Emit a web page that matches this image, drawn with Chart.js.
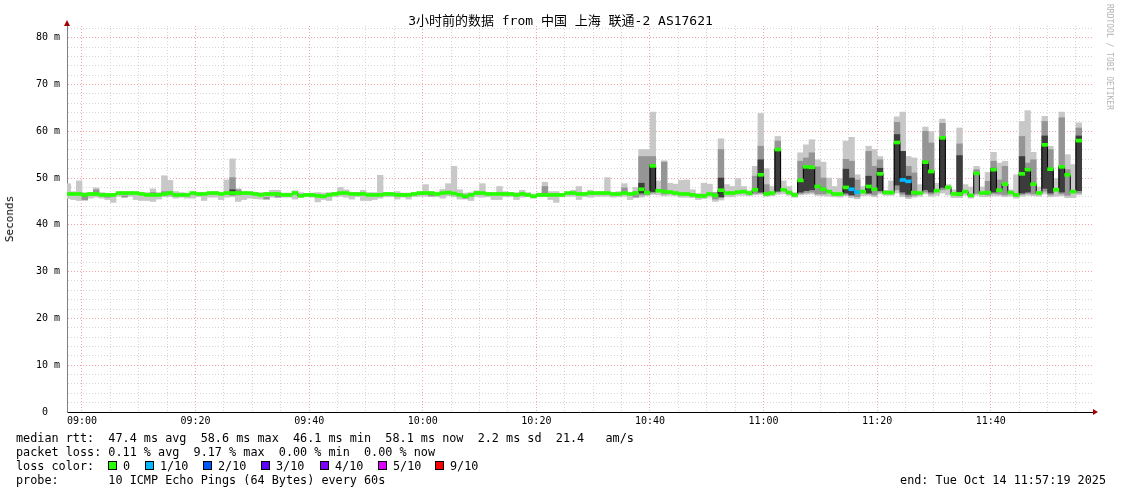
<!DOCTYPE html>
<html>
<head>
<meta charset="utf-8">
<title>SmokePing 3h</title>
<script src="https://cdn.jsdelivr.net/npm/chart.js@4.4.1/dist/chart.umd.min.js"></script>
<style>
  body { margin: 0; background: #fff; }
  #wrap { position: relative; width: 1121px; height: 494px; overflow: hidden; background: #fff; }
  #chart { position: absolute; left: 0; top: 0; }
  .txt { position: absolute; font-family: "DejaVu Sans Mono", monospace; color: #000; white-space: pre; }
  #title { left: 0; top: 13px; width: 1121px; text-align: center; font-size: 13px; line-height: 16px;
           font-family: "DejaVu Sans Mono", "Noto Sans CJK SC", monospace; }
  #ytitle { left: 10px; top: 219px; font-size: 11px; line-height: 12px; transform: translate(-50%, -50%) rotate(-90deg); }
  #legend { left: 16px; top: 431px; font-size: 11.8px; line-height: 14px; }
  #end { right: 15px; top: 473px; font-size: 11.8px; line-height: 14px; }
  #rrd { left: 1105px; top: 4px; font-size: 8px; color: #b4b4b4; writing-mode: vertical-rl; }
  .box { position: absolute; top: 461px; width: 7px; height: 7px; border: 1px solid #000; }
  .lbl { position: absolute; top: 459px; font-size: 11.8px; line-height: 14px; }
</style>
</head>
<body>
<div id="wrap">
  <canvas id="chart" width="1121" height="494"></canvas>
  <div id="title" class="txt">3小时前的数据 from 中国 上海 联通-2 AS17621</div>
  <div id="ytitle" class="txt">Seconds</div>
  <div id="rrd" class="txt">RRDTOOL / TOBI OETIKER</div>
  <div id="legend" class="txt">median rtt:  47.4 ms avg  58.6 ms max  46.1 ms min  58.1 ms now  2.2 ms sd  21.4   am/s
packet loss: 0.11 % avg  9.17 % max  0.00 % min  0.00 % now
loss color:
probe:       10 ICMP Echo Pings (64 Bytes) every 60s</div>
  <div id="lossKey"></div>
  <div id="end" class="txt">end: Tue Oct 14 11:57:19 2025</div>
</div>
<script>
// minutes relative to 09:00, first sample is 08:57
const firstMinute = -3;

const median = [
  46.6, 46.6, 46.6, 46.4, 46.6, 46.6, 46.4, 46.4, 46.4, 46.8,
  46.8, 46.8, 46.8, 46.6, 46.4, 46.4, 46.4, 46.6, 46.8, 46.4,
  46.4, 46.4, 46.8, 46.6, 46.6, 46.8, 46.8, 46.6, 46.8, 46.8,
  46.8, 46.8, 46.8, 46.6, 46.4, 46.6, 46.6, 46.6, 46.4, 46.4,
  46.8, 46.2, 46.4, 46.4, 46.2, 46.1, 46.4, 46.6, 46.8, 46.8,
  46.6, 46.6, 46.6, 46.4, 46.4, 46.4, 46.6, 46.6, 46.4, 46.4,
  46.4, 46.6, 46.8, 46.8, 46.8, 46.6, 46.8, 46.9, 46.7, 46.4,
  46.1, 46.4, 46.8, 46.8, 46.6, 46.6, 46.6, 46.6, 46.6, 46.4,
  46.6, 46.4, 46.1, 46.4, 46.4, 46.4, 46.4, 46.4, 46.8, 46.8,
  46.6, 46.6, 46.8, 46.8, 46.8, 46.8, 46.6, 46.6, 46.8, 46.6,
  46.8, 47.6, 46.9, 52.6, 47.3, 47.1, 47.0, 46.8, 46.6, 46.6,
  46.4, 46.2, 46.2, 46.6, 46.3, 47.4, 46.8, 46.8, 47.0, 47.1,
  46.8, 47.5, 50.7, 46.6, 46.8, 56.1, 47.5, 46.9, 46.4, 49.5,
  52.4, 52.3, 48.2, 47.6, 47.1, 46.6, 46.6, 48.0, 47.6, 47.0,
  47.1, 48.2, 47.6, 50.9, 46.9, 46.9, 57.6, 49.6, 49.3, 46.9,
  46.8, 53.4, 51.4, 47.3, 58.6, 48.0, 46.6, 46.6, 47.1, 46.3,
  51.0, 46.8, 46.9, 51.8, 47.4, 48.7, 46.9, 46.4, 50.9, 51.8,
  48.7, 46.8, 57.1, 51.9, 47.5, 52.4, 50.7, 47.1, 58.0
];

const minRtt = [
  45.6, 45.4, 45.2, 45.2, 45.7, 45.9, 45.7, 45.4, 44.8, 46.1,
  46.0, 46.1, 45.4, 45.2, 45.2, 45.0, 45.5, 46.0, 46.0, 45.7,
  45.9, 45.7, 45.7, 46.0, 45.2, 45.9, 45.9, 45.4, 45.9, 46.0,
  45.0, 45.4, 45.7, 45.6, 45.5, 45.5, 45.9, 45.9, 45.9, 45.9,
  45.5, 45.9, 46.0, 45.9, 44.9, 45.4, 45.2, 46.0, 46.1, 45.9,
  45.5, 46.0, 45.2, 45.2, 45.4, 45.7, 46.0, 46.0, 45.5, 45.9,
  45.5, 46.0, 46.1, 46.1, 46.0, 46.0, 45.7, 46.2, 46.0, 45.5,
  45.5, 45.2, 46.0, 45.9, 46.0, 45.4, 45.4, 46.0, 46.0, 45.4,
  45.9, 46.0, 45.7, 46.0, 46.0, 45.4, 44.8, 46.0, 46.1, 46.1,
  45.4, 46.0, 45.9, 46.1, 46.1, 46.1, 45.9, 46.0, 46.1, 45.4,
  45.9, 45.9, 46.2, 46.5, 46.4, 46.2, 46.3, 46.2, 45.9, 45.9,
  45.8, 45.4, 45.6, 45.9, 45.0, 45.3, 46.0, 46.0, 46.3, 46.3,
  46.2, 46.4, 46.5, 46.1, 46.2, 46.5, 46.6, 46.3, 45.9, 46.4,
  46.5, 46.6, 46.3, 46.2, 46.1, 46.0, 45.9, 46.2, 45.8, 45.6,
  46.2, 46.3, 46.0, 46.6, 46.3, 46.3, 46.8, 46.0, 45.6, 45.9,
  46.1, 46.6, 46.1, 46.3, 46.8, 46.4, 45.8, 45.8, 46.3, 45.7,
  46.3, 46.0, 46.0, 46.2, 46.2, 46.0, 46.1, 45.7, 46.1, 46.3,
  46.2, 46.1, 46.6, 46.0, 46.1, 46.2, 45.8, 45.8, 46.4
];

const maxRtt = [
  48.8, 47.1, 49.4, 46.9, 46.9, 47.9, 46.9, 46.4, 46.6, 46.9,
  47.1, 47.1, 46.9, 46.9, 46.9, 47.7, 46.9, 50.5, 49.5, 47.1,
  46.9, 46.8, 46.9, 46.9, 46.9, 46.9, 47.1, 46.8, 49.6, 54.1,
  47.7, 47.1, 46.9, 46.9, 46.9, 46.9, 47.4, 47.4, 46.8, 46.8,
  47.3, 46.9, 46.6, 46.8, 46.9, 46.8, 46.9, 46.9, 48.0, 47.5,
  46.9, 46.9, 47.4, 46.9, 46.9, 50.6, 46.9, 46.8, 47.1, 46.8,
  46.8, 46.9, 47.1, 48.6, 47.1, 46.8, 47.6, 48.8, 52.5, 47.5,
  46.8, 46.9, 47.3, 48.8, 46.9, 46.8, 48.2, 47.1, 46.9, 46.9,
  47.4, 46.9, 46.6, 46.8, 49.1, 47.1, 47.1, 46.5, 46.9, 47.4,
  48.2, 46.9, 47.4, 46.9, 47.1, 50.1, 46.9, 47.1, 48.8, 46.9,
  48.0, 56.1, 56.1, 64.1, 49.4, 53.7, 48.9, 48.7, 49.5, 49.6,
  47.5, 46.7, 48.9, 48.7, 46.8, 58.4, 48.6, 48.2, 49.9, 48.2,
  47.3, 52.5, 63.8, 52.0, 48.2, 58.9, 49.4, 48.2, 46.9, 55.4,
  57.1, 58.2, 53.9, 53.4, 50.0, 48.2, 49.9, 57.9, 58.7, 50.7,
  48.2, 56.8, 56.1, 54.6, 47.4, 49.4, 63.1, 64.1, 54.6, 54.3,
  48.6, 60.9, 59.9, 48.9, 62.6, 48.6, 47.5, 60.7, 48.6, 48.1,
  52.5, 48.1, 51.2, 55.5, 53.2, 53.6, 47.5, 50.7, 62.1, 64.4,
  55.5, 48.1, 63.2, 56.8, 49.9, 64.1, 55.0, 52.9, 61.8
];

// inner smoke bands: [minute, low, high]
const midBands = [
  [0, 45.4, 46.4], [2, 46.4, 47.5], [4, 45.9, 46.3], [7, 45.9, 46.2], [12, 46.2, 46.9],
  [14, 46.4, 47.1], [15, 46.4, 47.1], [26, 46.5, 50.1], [27, 46.4, 47.5], [32, 45.5, 45.9],
  [34, 45.9, 46.4], [61, 46.2, 46.8], [67, 45.7, 46.4], [81, 46.4, 48.2], [95, 46.6, 47.9],
  [97, 45.9, 47.1], [98, 46.4, 54.6], [99, 46.5, 54.6], [100, 46.8, 54.6], [102, 46.6, 53.4],
  [111, 45.5, 46.9], [112, 45.8, 56.1], [118, 46.7, 50.4], [119, 46.8, 56.8], [120, 46.4, 48.6],
  [122, 47.0, 57.9], [126, 46.7, 53.6], [127, 46.9, 54.3], [128, 47.0, 55.4], [129, 46.6, 52.4],
  [130, 46.6, 50.0], [134, 46.5, 54.0], [135, 46.2, 53.6], [136, 46.0, 49.6], [138, 46.6, 55.7],
  [139, 46.4, 52.5], [140, 47.0, 53.9], [143, 47.5, 61.9], [144, 46.5, 55.7], [145, 46.0, 52.5],
  [146, 46.3, 51.1], [148, 47.0, 60.0], [149, 46.6, 57.5], [151, 47.5, 61.7], [154, 46.2, 57.3],
  [157, 46.7, 51.8], [159, 46.4, 49.3], [160, 46.7, 53.6], [161, 46.6, 49.6], [162, 46.4, 52.5],
  [165, 46.5, 58.9], [166, 46.7, 53.2], [167, 46.6, 53.9], [169, 47.2, 62.1], [170, 46.4, 56.1],
  [172, 46.6, 62.9], [173, 46.3, 51.8], [175, 46.8, 60.7]
];

const darkBands = [
  [26, 46.4, 47.5], [98, 46.8, 48.9], [100, 47.1, 52.9], [112, 46.0, 50.0], [119, 47.0, 53.9],
  [122, 47.2, 56.2], [126, 47.0, 49.6], [127, 47.3, 52.5], [128, 47.5, 52.3], [134, 46.8, 51.9],
  [135, 46.4, 50.0], [138, 46.8, 50.4], [140, 47.3, 52.1], [143, 48.5, 59.3], [144, 47.0, 55.7],
  [145, 46.5, 50.4], [148, 47.5, 53.6], [149, 47.0, 51.6], [151, 48.0, 58.6], [154, 46.4, 54.8],
  [160, 47.0, 52.1], [165, 46.8, 54.6], [166, 47.0, 52.1], [169, 47.8, 59.0], [170, 46.8, 52.1],
  [172, 47.0, 52.5], [175, 47.3, 59.0]
];

// minutes with packet loss: [minute, lost pings out of 10]
const lossTenths = [[135, 1], [136, 1], [144, 1], [145, 1]];

const lossNames = ['0', '1/10', '2/10', '3/10', '4/10', '5/10', '9/10'];
const lossColors = ['#26ff00', '#00b8ff', '#0059ff', '#5e00ff', '#7e00ff', '#dd00ff', '#ff0000'];
const timeLabels = ['09:00', '09:20', '09:40', '10:00', '10:20', '10:40', '11:00', '11:20', '11:40'];
const yTickLabels = ['0  ', '10 m', '20 m', '30 m', '40 m', '50 m', '60 m', '70 m', '80 m'];

// loss colour key
const keyX = [108, 145, 203, 261, 320, 378, 435];
const key = document.getElementById('lossKey');
lossNames.forEach((name, i) => {
  key.innerHTML += `<div class="box" style="left:${keyX[i]}px;background:${lossColors[i]}"></div>` +
    `<div class="txt lbl" style="left:${keyX[i] + 15}px">${name}</div>`;
});

const at = (m) => m + 0.5;
const lossAt = {};
lossTenths.forEach(([m, l]) => { lossAt[m] = l; });

const smoke = median.map((_, i) => ({ x: at(firstMinute + i), y: [minRtt[i], maxRtt[i]] }));
const mid = midBands.map(([m, lo, hi]) => ({ x: at(m), y: [lo, hi] }));
const dark = darkBands.map(([m, lo, hi]) => ({ x: at(m), y: [lo, hi] }));
const medLine = median.map((v, i) => ({ x: at(firstMinute + i), y: v }));
const medBars = median.map((v, i) => ({ x: at(firstMinute + i), y: [v - 0.32, v + 0.32] }));
const medColors = median.map((_, i) => lossColors[lossAt[firstMinute + i] || 0]);

const barBase = { type: 'bar', grouped: false, barPercentage: 1, categoryPercentage: 1, borderWidth: 0 };

const arrows = {
  id: 'arrows',
  afterDraw(chart) {
    const { ctx, chartArea: a } = chart;
    ctx.save();
    ctx.fillStyle = '#a00000';
    ctx.beginPath();
    ctx.moveTo(a.left - 3, a.top);
    ctx.lineTo(a.left + 3, a.top);
    ctx.lineTo(a.left, a.top - 6);
    ctx.fill();
    ctx.beginPath();
    ctx.moveTo(a.right, a.bottom - 3);
    ctx.lineTo(a.right, a.bottom + 3);
    ctx.lineTo(a.right + 5, a.bottom);
    ctx.fill();
    ctx.restore();
  }
};

new Chart(document.getElementById('chart'), {
  data: {
    datasets: [
      { ...barBase, data: smoke, backgroundColor: '#c8c8c8', order: 6 },
      { ...barBase, data: mid, backgroundColor: '#959595', order: 5 },
      { ...barBase, data: dark, backgroundColor: '#3c3c3c', order: 4 },
      { type: 'line', data: medLine, stepped: 'middle', borderColor: '#000', borderWidth: 1,
        pointRadius: 0, order: 3 },
      { ...barBase, data: medBars, backgroundColor: medColors, order: 2 }
    ]
  },
  options: {
    responsive: false,
    animation: false,
    devicePixelRatio: 1,
    layout: { padding: { top: 26, right: 28, left: 0, bottom: 0 } },
    plugins: { legend: { display: false }, tooltip: { enabled: false } },
    scales: {
      x: {
        type: 'linear', min: -2.64, max: 178, offset: false,
        afterFit: (s) => { s.height = 82; },
        ticks: {
          stepSize: 5, includeBounds: false, autoSkip: false, maxRotation: 0, padding: 3,
          color: '#000', font: { family: 'DejaVu Sans Mono', size: 10 },
          callback: (v) => (v % 20 === 0 ? timeLabels[v / 20] : '')
        },
        grid: {
          drawTicks: false, offset: false,
          color: (c) => (c.tick && c.tick.value % 20 === 0 ? '#f5a5a5' : '#d6d6d6')
        },
        border: { color: '#000', dash: [1, 2] }
      },
      y: {
        min: 0, max: 82.5,
        afterFit: (s) => { s.width = 67; },
        ticks: {
          stepSize: 2, includeBounds: false, autoSkip: false, padding: 7,
          color: '#000', font: { family: 'DejaVu Sans Mono', size: 10 },
          callback: (v) => (v % 10 === 0 ? yTickLabels[v / 10] : '')
        },
        grid: {
          drawTicks: false,
          color: (c) => {
            if (!c.tick || c.tick.value === 0) return 'rgba(0,0,0,0)';
            return c.tick.value % 10 === 0 ? '#f5a5a5' : '#d6d6d6';
          }
        },
        border: { color: '#808080', dash: [1, 2] }
      }
    }
  },
  plugins: [arrows]
});
</script>
</body>
</html>
